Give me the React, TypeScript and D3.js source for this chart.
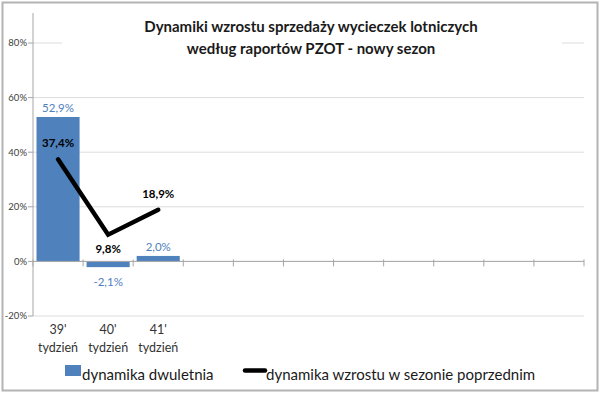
import React from "react";
import * as d3 from "d3";

const weeks = ["39'", "40'", "41'"];
const weekWord = "tydzień";
const slotCount = 11;
const twoYear = [52.9, -2.1, 2.0];
const prevSeason = [37.4, 9.8, 18.9];
const yTicks = [-20, 0, 20, 40, 60, 80];
const titleLines = ["Dynamiki wzrostu sprzedaży wycieczek lotniczych", "według raportów PZOT - nowy sezon"];
const legendBar = "dynamika dwuletnia";
const legendLine = "dynamika wzrostu w sezonie poprzednim";

const fmt = (v: number) => v.toFixed(1).replace(".", ",") + "%";

export default function App() {
  const W = 600, H = 395;
  const left = 33, right = 584;
  const y = d3.scaleLinear().domain([-20, 80]).range([316, 43]);
  const x = d3.scaleBand<number>().domain(d3.range(slotCount)).range([left, right]).paddingInner(0.14).paddingOuter(0.07);
  const step = x.step();
  const cx = (i: number) => (x(i) as number) + x.bandwidth() / 2;
  const line = d3.line<number>().x((_, i) => cx(i)).y((d) => y(d));
  const font = "Lato, 'Open Sans', sans-serif";
  const blue = "#4F81BD";
  const labelBlue = "#4F81BD";
  const boundaries = d3.range(slotCount + 1).map((i) => left + i * step);
  const lineLabelDy = [-16, 14, -16];

  return (
    <svg width={W} height={H} style={{ position: "absolute", left: 0, top: 0, background: "#fff" }} fontFamily={font}>
      <rect x={0} y={0} width={W} height={H} fill="#fff" />
      <rect x={2.5} y={2.5} width={595} height={388} fill="#fff" stroke="#b3b3b3" strokeWidth={2} />
      {/* gridlines */}
      {yTicks.map((t) => (
        <line key={t} x1={left} x2={right} y1={y(t)} y2={y(t)} stroke="#dcdcdc" strokeWidth={1} />
      ))}
      {/* y axis */}
      <line x1={left} x2={left} y1={13} y2={y(-20)} stroke="#a6a6a6" strokeWidth={1} />
      {yTicks.map((t) => (
        <g key={"yt" + t}>
          <line x1={left - 5} x2={left} y1={y(t)} y2={y(t)} stroke="#a6a6a6" />
          <text x={left - 6} y={y(t)} dy="0.35em" textAnchor="end" fontSize={9.5} fill="#404040">
            {t + "%"}
          </text>
        </g>
      ))}
      {/* title background */}
      <rect x={62} y={12} width={500} height={52} fill="#fff" />
      {titleLines.map((t, i) => (
        <text key={i} x={311} y={32 + i * 22} textAnchor="middle" fontSize={15} fontWeight="bold" fill="#1a1a1a">
          {t}
        </text>
      ))}
      {/* bars */}
      {twoYear.map((v, i) => (
        <rect key={"b" + i} x={x(i)} width={x.bandwidth()} y={y(Math.max(0, v))} height={Math.abs(y(v) - y(0))} fill={blue} />
      ))}
      {/* x axis */}
      <line x1={left} x2={right} y1={y(0)} y2={y(0)} stroke="#a6a6a6" />
      {boundaries.map((b, i) => (
        <line key={"xt" + i} x1={b} x2={b} y1={y(0) - 2} y2={y(0) + 5} stroke="#a6a6a6" />
      ))}
      {/* bar labels */}
      {twoYear.map((v, i) => (
        <text key={"bl" + i} x={cx(i)} y={v >= 0 ? y(v) - 9 : y(v) + 15} textAnchor="middle" dy="0.35em" fontSize={11.5} fill={labelBlue}>
          {fmt(v)}
        </text>
      ))}
      {/* line */}
      <path d={line(prevSeason) || ""} fill="none" stroke="#000" strokeWidth={4.5} strokeLinejoin="miter" strokeLinecap="round" />
      {prevSeason.map((v, i) => (
        <text key={"ll" + i} x={cx(i)} y={y(v) + lineLabelDy[i]} dy="0.35em" textAnchor="middle" fontSize={11.5} fontWeight="bold" fill="#000">
          {fmt(v)}
        </text>
      ))}
      {/* category labels */}
      {weeks.map((w, i) => (
        <g key={"c" + i}>
          <text x={cx(i)} y={334} textAnchor="middle" fontSize={12.5} fill="#333">{w}</text>
          <text x={cx(i)} y={352} textAnchor="middle" fontSize={12.5} fill="#333">{weekWord}</text>
        </g>
      ))}
      {/* legend */}
      <rect x={65} y={365} width={16} height={11} fill={blue} />
      <text x={82} y={380} fontSize={15} fill="#1a1a1a">{legendBar}</text>
      <line x1={245} x2={265} y1={370.5} y2={370.5} stroke="#000" strokeWidth={4.5} strokeLinecap="round" />
      <text x={266} y={380} fontSize={15} fill="#1a1a1a">{legendLine}</text>
    </svg>
  );
}
